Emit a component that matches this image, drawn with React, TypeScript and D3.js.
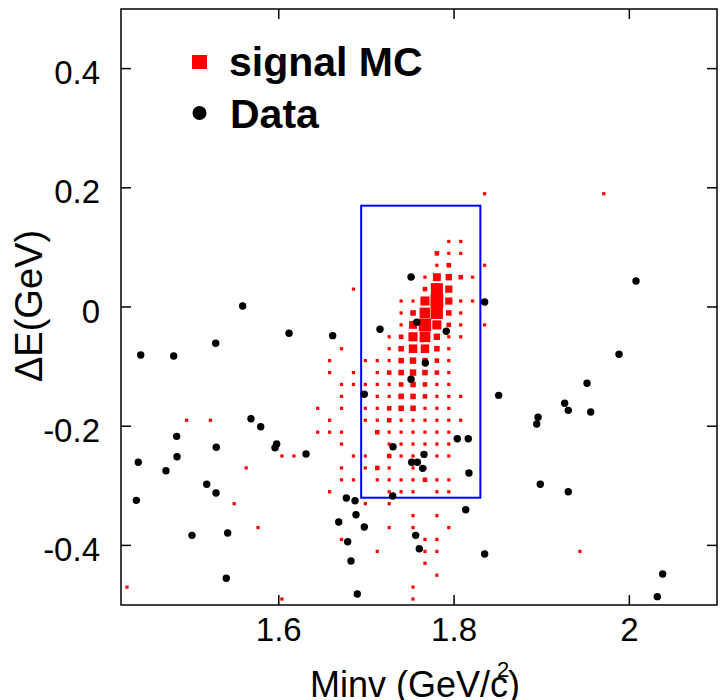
import React from "react";
import * as d3 from "d3";

const W = 723;
const H = 700;
const FONT = "'Liberation Sans', Arial, Helvetica, sans-serif";

// Axis definitions
const minvDomain: [number, number] = [1.42, 2.1];
const dEDomain: [number, number] = [-0.5, 0.5];
const nBinsMinv = 50;
const nBinsDE = 50;
const xTicks = [1.6, 1.8, 2.0];
const xTickLabels = ["1.6", "1.8", "2"];
const yTicks = [-0.4, -0.2, 0, 0.2, 0.4];
const yTickLabels = ["-0.4", "-0.2", "0", "0.2", "0.4"];

// Signal window (blue box)
const windowMinv = [1.694, 1.83];
const windowDE = [-0.32, 0.17];

// Signal MC 2D histogram: each row has a dE bin center and [Minv bin index, content] cells
const mcRows: { dE: number; cells: [number, number][] }[] = [
  { dE: 0.19, cells: [[30, 1], [40, 1]] },
  { dE: 0.11, cells: [[27, 1], [28, 1]] },
  { dE: 0.09, cells: [[26, 2], [27, 1], [28, 1]] },
  { dE: 0.07, cells: [[26, 1], [27, 2], [30, 1]] },
  { dE: 0.05, cells: [[24, 1], [25, 1], [26, 6], [27, 4], [28, 2], [29, 1]] },
  { dE: 0.03, cells: [[19, 1], [25, 2], [26, 14], [27, 5]] },
  { dE: 0.01, cells: [[23, 1], [24, 1], [25, 8], [26, 16], [27, 5], [28, 1], [29, 1], [30, 1]] },
  { dE: -0.01, cells: [[23, 1], [24, 3], [25, 11], [26, 14], [27, 3], [28, 1]] },
  { dE: -0.03, cells: [[23, 1], [24, 6], [25, 15], [26, 8], [27, 2], [28, 1], [30, 1]] },
  { dE: -0.05, cells: [[22, 1], [23, 2], [24, 8], [25, 11], [26, 4], [27, 1], [28, 1]] },
  { dE: -0.07, cells: [[18, 1], [22, 1], [23, 3], [24, 7], [25, 7], [26, 3], [27, 1]] },
  { dE: -0.09, cells: [[17, 1], [20, 1], [21, 1], [22, 1], [23, 3], [24, 4], [25, 3], [26, 2], [27, 1]] },
  { dE: -0.11, cells: [[17, 1], [19, 1], [21, 1], [22, 2], [23, 3], [24, 4], [25, 3], [26, 2], [27, 1]] },
  { dE: -0.13, cells: [[18, 1], [19, 1], [20, 1], [21, 1], [22, 1], [23, 2], [24, 3], [25, 2], [26, 1], [27, 1]] },
  { dE: -0.15, cells: [[18, 1], [21, 1], [22, 1], [23, 3], [24, 3], [25, 2], [26, 1], [27, 1], [28, 1]] },
  { dE: -0.17, cells: [[16, 1], [18, 1], [20, 1], [21, 1], [22, 2], [23, 3], [24, 3], [25, 1], [26, 1], [27, 1]] },
  { dE: -0.19, cells: [[5, 1], [7, 1], [17, 1], [20, 1], [21, 1], [22, 2], [23, 1], [24, 1], [25, 1], [26, 1], [27, 1], [28, 1]] },
  { dE: -0.21, cells: [[16, 1], [17, 1], [18, 1], [21, 2], [22, 1], [23, 1], [24, 1], [25, 1], [26, 1], [27, 1]] },
  { dE: -0.23, cells: [[18, 1], [22, 1], [23, 1], [24, 1], [25, 1], [26, 1], [27, 1]] },
  { dE: -0.25, cells: [[13, 1], [14, 1], [19, 1], [20, 1], [22, 2], [23, 1], [24, 1], [25, 1], [26, 1], [27, 1]] },
  { dE: -0.27, cells: [[10, 1], [18, 1], [20, 1], [21, 2], [22, 1], [24, 1], [25, 1]] },
  { dE: -0.29, cells: [[18, 1], [19, 1], [21, 1], [22, 1], [23, 1], [24, 1], [25, 2], [26, 1], [27, 1]] },
  { dE: -0.31, cells: [[17, 1], [22, 1], [23, 1], [24, 1], [26, 1], [27, 1]] },
  { dE: -0.33, cells: [[9, 1], [20, 1], [22, 1]] },
  { dE: -0.35, cells: [[24, 1], [26, 1]] },
  { dE: -0.37, cells: [[11, 1], [22, 1], [24, 1], [27, 1]] },
  { dE: -0.39, cells: [[18, 1], [25, 1], [26, 1]] },
  { dE: -0.41, cells: [[21, 1], [25, 1], [26, 1], [38, 1]] },
  { dE: -0.43, cells: [[25, 1]] },
  { dE: -0.45, cells: [[26, 1]] },
  { dE: -0.47, cells: [[0, 1], [24, 1]] },
  { dE: -0.49, cells: [[13, 1], [24, 1]] },
];
const mcMaxContent = 16;

// Data events
const dataMinv = [
  1.5588, 1.6117, 1.528, 1.4425, 1.4801, 1.5683, 1.5794, 1.4835, 1.5287, 1.5976,
  1.5957, 1.6311, 1.4397, 1.4839, 1.4713, 1.5178, 1.5284, 1.4375, 1.501, 1.5417,
  1.5401, 2.0076, 1.8349, 1.9882, 1.9517, 1.8509, 1.9262, 1.9303, 1.9559, 1.8958,
  1.8943, 1.8984, 1.9303, 1.8349, 2.038, 2.0319, 1.7509, 1.6615, 1.7155, 1.7574,
  1.7911, 1.7672, 1.7509, 1.6976, 1.8037, 1.8162, 1.7303, 1.7657, 1.7517, 1.7581,
  1.7642, 1.817, 1.73, 1.6771, 1.687, 1.8133, 1.6881, 1.6684, 1.6976, 1.7562,
  1.6786, 1.7603, 1.6824, 1.6896,
];
const dataDE = [
  0.0017, -0.0441, -0.0609, -0.0805, -0.0822, -0.1874, -0.2008, -0.217, -0.2354, -0.2299,
  -0.2361, -0.2466, -0.2606, -0.2512, -0.2747, -0.2975, -0.3121, -0.3244, -0.3831, -0.3792,
  -0.4552, 0.0436, 0.0084, -0.0794, -0.128, -0.1482, -0.1616, -0.1734, -0.1762, -0.1851,
  -0.1963, -0.2975, -0.3099, -0.4144, -0.448, -0.486, 0.0503, -0.0481, -0.0374, -0.0257,
  -0.0408, -0.094, -0.1213, -0.1465, -0.221, -0.221, -0.2344, -0.2472, -0.2606, -0.2606,
  -0.2707, -0.2785, -0.3171, -0.3205, -0.325, -0.3401, -0.3485, -0.3607, -0.3691, -0.3831,
  -0.3938, -0.4055, -0.4262, -0.4815,
];

const legendLabels = ["signal MC", "Data"];

const PL = 121, PR = 717, PT = 9, PB = 605;
const TICK = 10;

export default function App() {
  const x = d3.scaleLinear().domain(minvDomain).range([PL, PR]);
  const y = d3.scaleLinear().domain(dEDomain).range([PB, PT]);
  const binW = (minvDomain[1] - minvDomain[0]) / nBinsMinv;
  const binPx = x(minvDomain[0] + binW) - x(minvDomain[0]);
  const size = d3.scaleSqrt().domain([0, mcMaxContent]).range([0, binPx * 1.08]);

  const boxes: { cx: number; cy: number; s: number; key: string }[] = [];
  mcRows.forEach((row) => {
    row.cells.forEach(([i, c]) => {
      const m = minvDomain[0] + (i + 0.5) * binW;
      boxes.push({ cx: x(m), cy: y(row.dE), s: size(c), key: `${i}_${row.dE}` });
    });
  });

  return (
    <div style={{ position: "absolute", left: 0, top: 0 }}>
      <svg width={W} height={H} viewBox={`0 0 ${W} ${H}`} style={{ display: "block", background: "#fff" }}>
        <rect x={0} y={0} width={W} height={H} fill="#fff" />
        {/* MC boxes */}
        <g fill="#ff0000">
          {boxes.map((b) => (
            <rect key={b.key} x={b.cx - b.s / 2} y={b.cy - b.s / 2} width={b.s} height={b.s} />
          ))}
        </g>
        {/* signal window */}
        <rect
          x={x(windowMinv[0])}
          y={y(windowDE[1])}
          width={x(windowMinv[1]) - x(windowMinv[0])}
          height={y(windowDE[0]) - y(windowDE[1])}
          fill="none"
          stroke="#0000ff"
          strokeWidth={2}
        />
        {/* data */}
        <g fill="#000">
          {dataMinv.map((m, k) => (
            <circle key={k} cx={x(m)} cy={y(dataDE[k])} r={3.7} />
          ))}
        </g>
        {/* frame */}
        <rect x={PL} y={PT} width={PR - PL} height={PB - PT} fill="none" stroke="#000" strokeWidth={1.5} />
        {/* ticks */}
        <g stroke="#000" strokeWidth={1.5}>
          {xTicks.map((t) => (
            <g key={`xt${t}`}>
              <line x1={x(t)} x2={x(t)} y1={PB} y2={PB - TICK} />
              <line x1={x(t)} x2={x(t)} y1={PT} y2={PT + TICK} />
            </g>
          ))}
          {yTicks.map((t) => (
            <g key={`yt${t}`}>
              <line x1={PL} x2={PL + TICK} y1={y(t)} y2={y(t)} />
              <line x1={PR} x2={PR - TICK} y1={y(t)} y2={y(t)} />
            </g>
          ))}
        </g>
        {/* tick labels */}
        <g fontFamily={FONT} fontSize={33} fill="#000">
          {xTicks.map((t, k) => (
            <text key={`xl${t}`} x={x(t)} y={641} textAnchor="middle">
              {xTickLabels[k]}
            </text>
          ))}
          {yTicks.map((t, k) => (
            <text key={`yl${t}`} x={100} y={y(t) + 15.5} textAnchor="end">
              {yTickLabels[k]}
            </text>
          ))}
        </g>
        {/* axis titles */}
        <text x={310} y={697} fontFamily={FONT} fontSize={36} fill="#000">
          Minv (GeV/c)
        </text>
        <text x={497} y={677} fontFamily={FONT} fontSize={22} fill="#000">
          2
        </text>
        <text
          transform="translate(42,306) rotate(-90)"
          textAnchor="middle"
          fontFamily={FONT}
          fontSize={38}
          fill="#000"
        >
          ΔE(GeV)
        </text>
        {/* legend */}
        <rect x={192} y={55} width={15} height={14} fill="#ff0000" />
        <text x={229} y={76} fontFamily={FONT} fontSize={41} fontWeight="bold" fill="#000">
          {legendLabels[0]}
        </text>
        <circle cx={199.5} cy={113} r={7} fill="#000" />
        <text x={230} y={128} fontFamily={FONT} fontSize={41} fontWeight="bold" fill="#000">
          {legendLabels[1]}
        </text>
      </svg>
    </div>
  );
}
